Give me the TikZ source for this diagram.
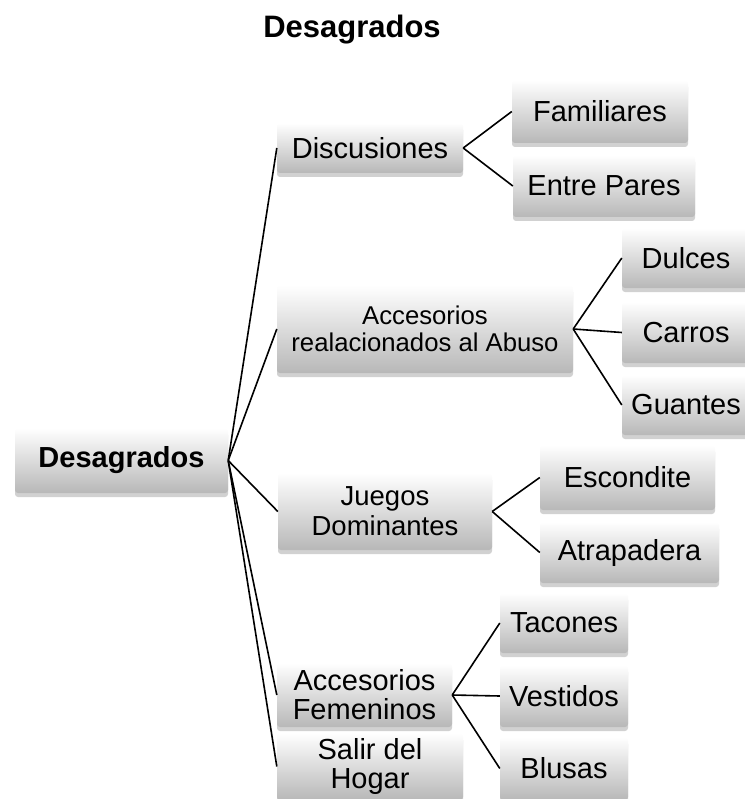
\documentclass[tikz,border=0pt]{standalone}
\usepackage{fontspec}
\setmainfont{Liberation Sans}
\usetikzlibrary{shadows}
\tikzset{box/.style={rectangle, rounded corners=3pt, top color=white, bottom color=black!28, drop shadow={shadow xshift=0pt, shadow yshift=-4pt, opacity=0.3, fill=black!60}, align=center, inner sep=+0pt, font=\fontsize{29}{29}\selectfont}}
\tikzset{link/.style={-, line width=1.6pt, black}}

\begin{document}
\begin{tikzpicture}[x=1pt,y=-1pt]
    \useasboundingbox (0,0) rectangle (744,799);
    \node[font=\fontsize{31}{31}\selectfont\bfseries] (title) at (352,30) {Desagrados};

    \node[box,minimum width=213pt,minimum height=65pt,font=\fontsize{29}{29}\selectfont\bfseries] (root) at (121.5,460.5) {Desagrados};

    \node[box,minimum width=186pt,minimum height=50pt] (disc) at (370,148) {Discusiones};
    \node[box,minimum width=296pt,minimum height=88pt,font=\fontsize{25.7}{27}\selectfont] (acc) at (425,329) {Accesorios\\realacionados al Abuso};
    \node[box,minimum width=214pt,minimum height=77pt,font=\fontsize{27.5}{30}\selectfont] (jue) at (385,511.5) {Juegos\\Dominantes};
    \node[box,minimum width=175pt,minimum height=64pt] (fem) at (364.5,695) {Accesorios\\Femeninos};
    \node[box,minimum width=186pt,minimum height=67pt] (sal) at (370,766.5) {Salir del\\Hogar};

    \node[box,minimum width=176pt,minimum height=63pt] (fam) at (600,111.5) {Familiares};
    \node[box,minimum width=182pt,minimum height=62pt] (ent) at (604,186) {Entre Pares};

    \node[box,minimum width=128pt,minimum height=60pt] (dul) at (686,258) {Dulces};
    \node[box,minimum width=128pt,minimum height=61pt] (car) at (686,332.5) {Carros};
    \node[box,minimum width=128pt,minimum height=60pt] (gua) at (686,405) {Guantes};

    \node[box,minimum width=175pt,minimum height=65pt] (esc) at (627.5,477.5) {Escondite};
    \node[box,minimum width=179pt,minimum height=61pt] (atr) at (629.5,552.5) {Atrapadera};

    \node[box,minimum width=128pt,minimum height=60pt] (tac) at (564,623) {Tacones};
    \node[box,minimum width=128pt,minimum height=62pt] (ves) at (564,696) {Vestidos};
    \node[box,minimum width=128pt,minimum height=63pt] (blu) at (564,768.5) {Blusas};

    \foreach \n in {disc,acc,jue,fem,sal} {
            \draw[link] (root.east) -- (\n.west);
        }

    \draw[link] (disc.east) -- (fam.west);
    \draw[link] (disc.east) -- (ent.west);

    \foreach \n in {dul,car,gua} {
            \draw[link] (acc.east) -- (\n.west);
        }

    \draw[link] (jue.east) -- (esc.west);
    \draw[link] (jue.east) -- (atr.west);

    \foreach \n in {tac,ves,blu} {
            \draw[link] (fem.east) -- (\n.west);
        }

\end{tikzpicture}
\end{document}
